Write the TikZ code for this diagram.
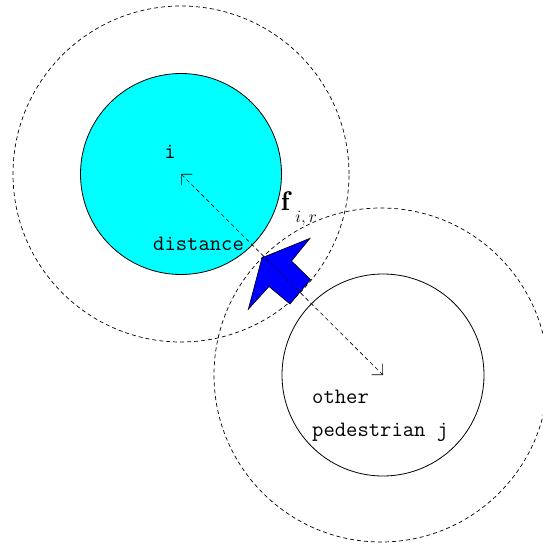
\documentclass[tikz,border=0pt]{standalone}
\usepackage{fontspec}
\usepackage{tikz}
\usetikzlibrary{arrows.meta,positioning}
\definecolor{ink}{RGB}{0,0,0}
\definecolor{pedfill}{RGB}{0,255,255}
\definecolor{forceblue}{RGB}{0,0,255}
\tikzset{
  ped/.style={circle,draw=ink,line width=0.8pt,inner sep=0pt},
  zone/.style={circle,draw=ink,line width=0.7pt,dash pattern=on 4pt off 3pt,inner sep=0pt},
  lbl/.style={font=\ttfamily\fontsize{22}{33}\selectfont,inner sep=0pt,align=left},
  dist/.style={{Straight Barb[angle=90:11pt]}-{Straight Barb[angle=90:11pt]},
    line width=0.6pt,dash pattern=on 4pt off 3pt},
  force/.style={draw=ink,fill=forceblue,line width=0.6pt,line join=miter},
}

\begin{document}
\begin{tikzpicture}[x=1pt,y=-1pt]
\useasboundingbox (0,0) rectangle (543,546);
\clip (0,0) rectangle (543,546);
% personal zones (dashed) and bodies
\node[zone,minimum size=336pt] (zone i) at (181,174) {};
\node[zone,minimum size=334pt] (zone j) at (381,375) {};
\node[ped,fill=pedfill,minimum size=201pt] (ped i) at (181,174) {};
\node[ped,minimum size=202pt] (ped j) at (383,375) {};
% repulsive force on i
\draw[force] (262,257.7) -- (310,238.3) -- (291.5,261) -- (310.5,279.5)
  -- (290,304) -- (269,286.5) -- (248.3,309.3) -- cycle;
\draw[dist] (ped i.center) -- (ped j.center);
% labels
\node[lbl,anchor=base] (lbl i) at (170,158) {i};
\node[lbl,anchor=base west] (lbl dist) at (153,250.5) {distance};
\node[lbl,anchor=base west] (lbl j) at (312,436.7) {other\\pedestrian j};
\node[anchor=base west,inner sep=0pt,font=\fontsize{27}{30}\selectfont] (lbl f)
  at (281,210.7) {$\mathbf{f}$\hspace{6pt}\raisebox{-12pt}{\fontsize{19}{20}\selectfont$i,r$}};
\end{tikzpicture}
\end{document}
